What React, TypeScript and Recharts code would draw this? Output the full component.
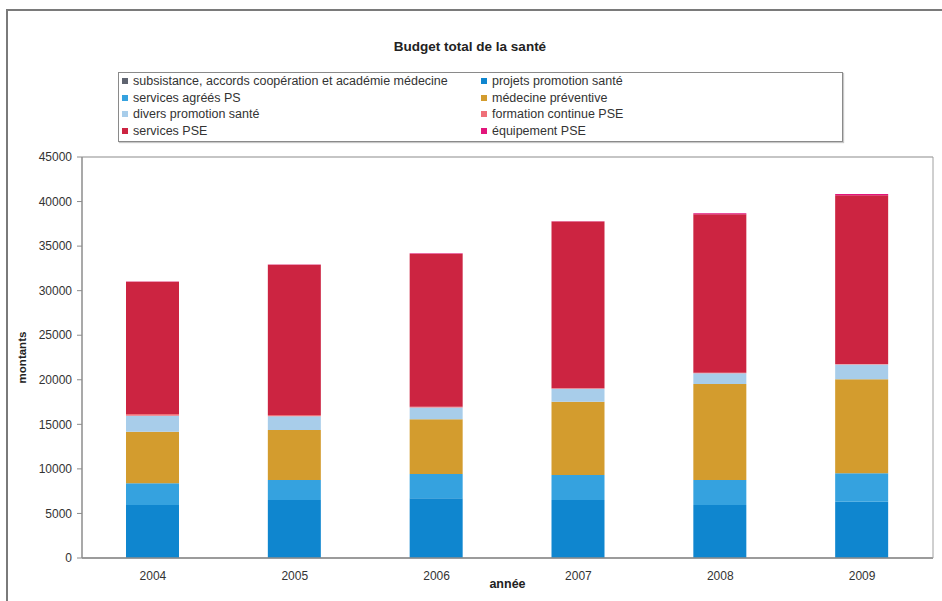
import React from 'react';
import { BarChart, Bar, XAxis, YAxis, CartesianGrid } from 'recharts';

const years = ['2004', '2005', '2006', '2007', '2008', '2009'];
const subsistance = [0, 0, 0, 0, 0, 0];
const projets = [5950, 6510, 6700, 6510, 5950, 6320];
const agrees = [2430, 2240, 2730, 2800, 2800, 3180];
const medecine = [5790, 5610, 6130, 8230, 10780, 10550];
const divers = [1790, 1540, 1340, 1440, 1210, 1660];
const formation = [200, 150, 80, 60, 60, 60];
const servicesPSE = [14840, 16850, 17170, 18710, 17780, 18930];
const equipement = [30, 30, 50, 50, 100, 150];
const yTicks = [0, 5000, 10000, 15000, 20000, 25000, 30000, 35000, 40000, 45000];

const series = [
  { key: 'subsistance', name: 'subsistance, accords coopération et académie médecine', color: '#5f6470', values: subsistance },
  { key: 'projets', name: 'projets promotion santé', color: '#0f86cf', values: projets },
  { key: 'agrees', name: 'services agréés PS', color: '#35a2df', values: agrees },
  { key: 'medecine', name: 'médecine préventive', color: '#d39c2e', values: medecine },
  { key: 'divers', name: 'divers promotion santé', color: '#a8cdea', values: divers },
  { key: 'formation', name: 'formation continue PSE', color: '#ef6f78', values: formation },
  { key: 'services', name: 'services PSE', color: '#cc2441', values: servicesPSE },
  { key: 'equipement', name: 'équipement PSE', color: '#e2157b', values: equipement },
];

const data = years.map((y, i) => {
  const row: Record<string, string | number> = { year: y };
  series.forEach((s) => {
    row[s.key] = s.values[i];
  });
  return row;
});

const FONT = '"Liberation Sans", Arial, sans-serif';

export default function App() {
  return (
    <div style={{ position: 'absolute', left: 0, top: 0, width: 942, height: 601, overflow: 'hidden', background: '#fff' }}>
      <div
        style={{
          position: 'absolute',
          left: 6,
          top: 9,
          width: 1000,
          height: 700,
          border: '2px solid #7a7a7a',
        }}
      />
      <div
        style={{
          position: 'absolute',
          left: 0,
          top: 39,
          width: 940,
          textAlign: 'center',
          fontFamily: FONT,
          fontWeight: 'bold',
          fontSize: 13.5,
          color: '#222',
        }}
      >
        Budget total de la santé
      </div>
      <div
        style={{
          position: 'absolute',
          left: 118,
          top: 72,
          width: 720,
          height: 68,
          border: '1px solid #8a8a8a',
          boxShadow: '1px 1px 1px #c8c8c8',
          background: '#fff',
          fontFamily: FONT,
          fontSize: 12.5,
          color: '#333',
          display: 'grid',
          gridTemplateColumns: '359px 1fr',
          gridAutoRows: '16.5px',
          paddingLeft: 3,
        }}
      >
        {series.map((s) => (
          <div key={s.key} style={{ display: 'flex', alignItems: 'center', whiteSpace: 'nowrap' }}>
            <span style={{ display: 'inline-block', width: 6, height: 6, background: s.color, marginRight: 5 }} />
            <span>{s.name}</span>
          </div>
        ))}
      </div>
      <div style={{ position: 'absolute', left: 0, top: 0 }}>
        <BarChart
          width={942}
          height={601}
          data={data}
          margin={{ top: 157, right: 8, bottom: 13, left: 8 }}
          barSize={53}
        >
          <CartesianGrid vertical={false} stroke="#8c8c8c" strokeWidth={1.2} />
          <XAxis
            dataKey="year"
            tickLine={false}
            tickSize={0}
            tickMargin={13}
            axisLine={{ stroke: '#8c8c8c', strokeWidth: 1.5 }}
            tick={{ fontFamily: FONT, fontSize: 12, fill: '#333' }}
            height={30}
            label={{ value: 'année', position: 'insideBottom', offset: 0, style: { fontFamily: FONT, fontSize: 12.5, fontWeight: 'bold', fill: '#222' } }}
          />
          <YAxis
            yAxisId="left"
            width={74}
            domain={[0, 45000]}
            ticks={yTicks}
            interval={0}
            tickSize={5}
            tickMargin={5}
            axisLine={{ stroke: '#8c8c8c', strokeWidth: 1.5 }}
            tickLine={{ stroke: '#8c8c8c' }}
            tick={{ fontFamily: FONT, fontSize: 12, fill: '#333' }}
            label={{ value: 'montants', angle: -90, position: 'insideLeft', offset: 14, style: { fontFamily: FONT, fontSize: 11.5, fontWeight: 'bold', fill: '#222', textAnchor: 'middle' } }}
          />
          <YAxis
            yAxisId="right"
            orientation="right"
            width={1}
            domain={[0, 45000]}
            tick={false}
            tickLine={false}
            axisLine={{ stroke: '#a0a0a0' }}
          />
          {series.map((s) => (
            <Bar
              key={s.key}
              yAxisId="left"
              dataKey={s.key}
              name={s.name}
              stackId="a"
              fill={s.color}
              isAnimationActive={false}
            />
          ))}
        </BarChart>
      </div>
    </div>
  );
}
